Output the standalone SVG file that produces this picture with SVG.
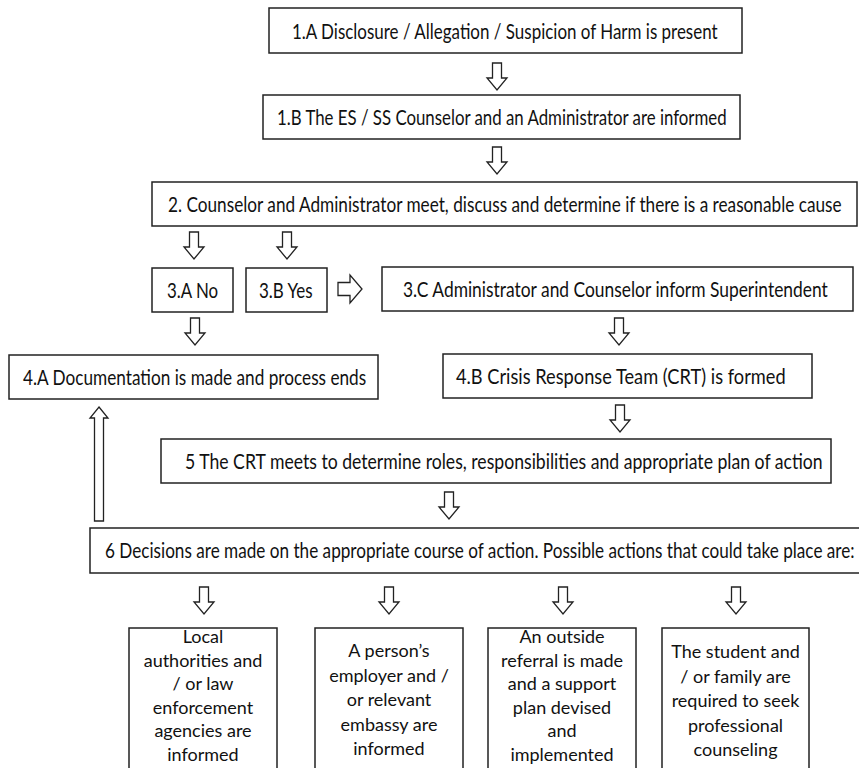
<svg xmlns="http://www.w3.org/2000/svg" xmlns:xlink="http://www.w3.org/1999/xlink" width="859" height="768" viewBox="0 0 859 768">
<style>
.box{fill:#fff;stroke:#222;stroke-width:1.5}
.t{font-family:Lato,"Noto Sans","Liberation Sans",sans-serif;font-size:21px;fill:#111}
.b{font-family:Lato,"Noto Sans","Liberation Sans",sans-serif;font-size:18px;fill:#111;text-anchor:middle}
.arr{fill:#fff;stroke:#222;stroke-width:1.3}
</style>
<defs>
<path id="down" d="M-4.5,0 H4.5 V15 H10 L0,27 L-10,15 H-4.5 Z"/>
</defs>
<rect width="859" height="768" fill="#fff"/>
<g id="connectors" class="arr">
<use xlink:href="#down" href="#down" x="497" y="63"/>
<use xlink:href="#down" href="#down" x="497" y="147"/>
<use xlink:href="#down" href="#down" x="194" y="232"/>
<use xlink:href="#down" href="#down" x="287" y="232"/>
<use xlink:href="#down" href="#down" x="195" y="318"/>
<use xlink:href="#down" href="#down" x="619" y="318"/>
<use xlink:href="#down" href="#down" x="620" y="405"/>
<use xlink:href="#down" href="#down" x="449" y="492"/>
<use xlink:href="#down" href="#down" x="204" y="587"/>
<use xlink:href="#down" href="#down" x="389" y="587"/>
<use xlink:href="#down" href="#down" x="563" y="587"/>
<use xlink:href="#down" href="#down" x="736" y="587"/>
<path d="M338,282.5 H350 V275 L362,289 L350,303 V295.5 H338 Z"/>
<path d="M99,407 L108,418 H103.5 V521 H94.5 V418 H90 Z"/>
</g>
<g id="n1a"><rect class="box" x="269" y="8" width="473" height="45"/><text class="t" transform="translate(292,39) scale(0.8,1)" textLength="532" lengthAdjust="spacingAndGlyphs">1.A Disclosure / Allegation / Suspicion of Harm is present</text></g>
<g id="n1b"><rect class="box" x="263" y="95" width="477" height="44"/><text class="t" transform="translate(277,125) scale(0.8,1)" textLength="562" lengthAdjust="spacingAndGlyphs">1.B The ES / SS Counselor and an Administrator are informed</text></g>
<g id="n2"><rect class="box" x="152" y="182" width="705" height="44"/><text class="t" transform="translate(168,212) scale(0.8,1)" textLength="842" lengthAdjust="spacingAndGlyphs">2. Counselor and Administrator meet, discuss and determine if there is a reasonable cause</text></g>
<g id="n3a"><rect class="box" x="152" y="268" width="81" height="44"/><text class="t" transform="translate(167,298) scale(0.8,1)" textLength="64" lengthAdjust="spacingAndGlyphs">3.A No</text></g>
<g id="n3b"><rect class="box" x="246" y="268" width="81" height="44"/><text class="t" transform="translate(259,298) scale(0.8,1)" textLength="67" lengthAdjust="spacingAndGlyphs">3.B Yes</text></g>
<g id="n3c"><rect class="box" x="382" y="267" width="471" height="44"/><text class="t" transform="translate(403,297) scale(0.8,1)" textLength="531" lengthAdjust="spacingAndGlyphs">3.C Administrator and Counselor inform Superintendent</text></g>
<g id="n4a"><rect class="box" x="9" y="355" width="369" height="44"/><text class="t" transform="translate(23,385) scale(0.8,1)" textLength="429" lengthAdjust="spacingAndGlyphs">4.A Documentation is made and process ends</text></g>
<g id="n4b"><rect class="box" x="443" y="354" width="369" height="44"/><text class="t" transform="translate(456,384) scale(0.8,1)" textLength="412" lengthAdjust="spacingAndGlyphs">4.B Crisis Response Team (CRT) is formed</text></g>
<g id="n5"><rect class="box" x="161" y="439" width="670" height="44"/><text class="t" transform="translate(185,469) scale(0.8,1)" textLength="797" lengthAdjust="spacingAndGlyphs">5 The CRT meets to determine roles, responsibilities and appropriate plan of action</text></g>
<g id="n6"><rect class="box" x="90" y="528" width="790" height="45"/><text class="t" transform="translate(105,558) scale(0.8,1)" textLength="937" lengthAdjust="spacingAndGlyphs">6 Decisions are made on the appropriate course of action. Possible actions that could take place are:</text></g>
<g id="o1"><rect class="box" x="129" y="628" width="148" height="160"/><text class="b" x="203" y="643"><tspan x="203">Local</tspan><tspan x="203" dy="23.6">authorities and</tspan><tspan x="203" dy="23.6">/ or law</tspan><tspan x="203" dy="23.6">enforcement</tspan><tspan x="203" dy="23.6">agencies are</tspan><tspan x="203" dy="23.6">informed</tspan></text></g>
<g id="o2"><rect class="box" x="315" y="628" width="148" height="160"/><text class="b" x="389" y="657"><tspan x="389">A person’s</tspan><tspan x="389" dy="24.5">employer and /</tspan><tspan x="389" dy="24.5">or relevant</tspan><tspan x="389" dy="24.5">embassy are</tspan><tspan x="389" dy="24.5">informed</tspan></text></g>
<g id="o3"><rect class="box" x="488" y="628" width="148" height="160"/><text class="b" x="562" y="643"><tspan x="562">An outside</tspan><tspan x="562" dy="23.6">referral is made</tspan><tspan x="562" dy="23.6">and a support</tspan><tspan x="562" dy="23.6">plan devised</tspan><tspan x="562" dy="23.6">and</tspan><tspan x="562" dy="23.6">implemented</tspan></text></g>
<g id="o4"><rect class="box" x="662" y="628" width="147" height="160"/><text class="b" x="735.5" y="658"><tspan x="735.5">The student and</tspan><tspan x="735.5" dy="24.5">/ or family are</tspan><tspan x="735.5" dy="24.5">required to seek</tspan><tspan x="735.5" dy="24.5">professional</tspan><tspan x="735.5" dy="24.5">counseling</tspan></text></g>
</svg>
